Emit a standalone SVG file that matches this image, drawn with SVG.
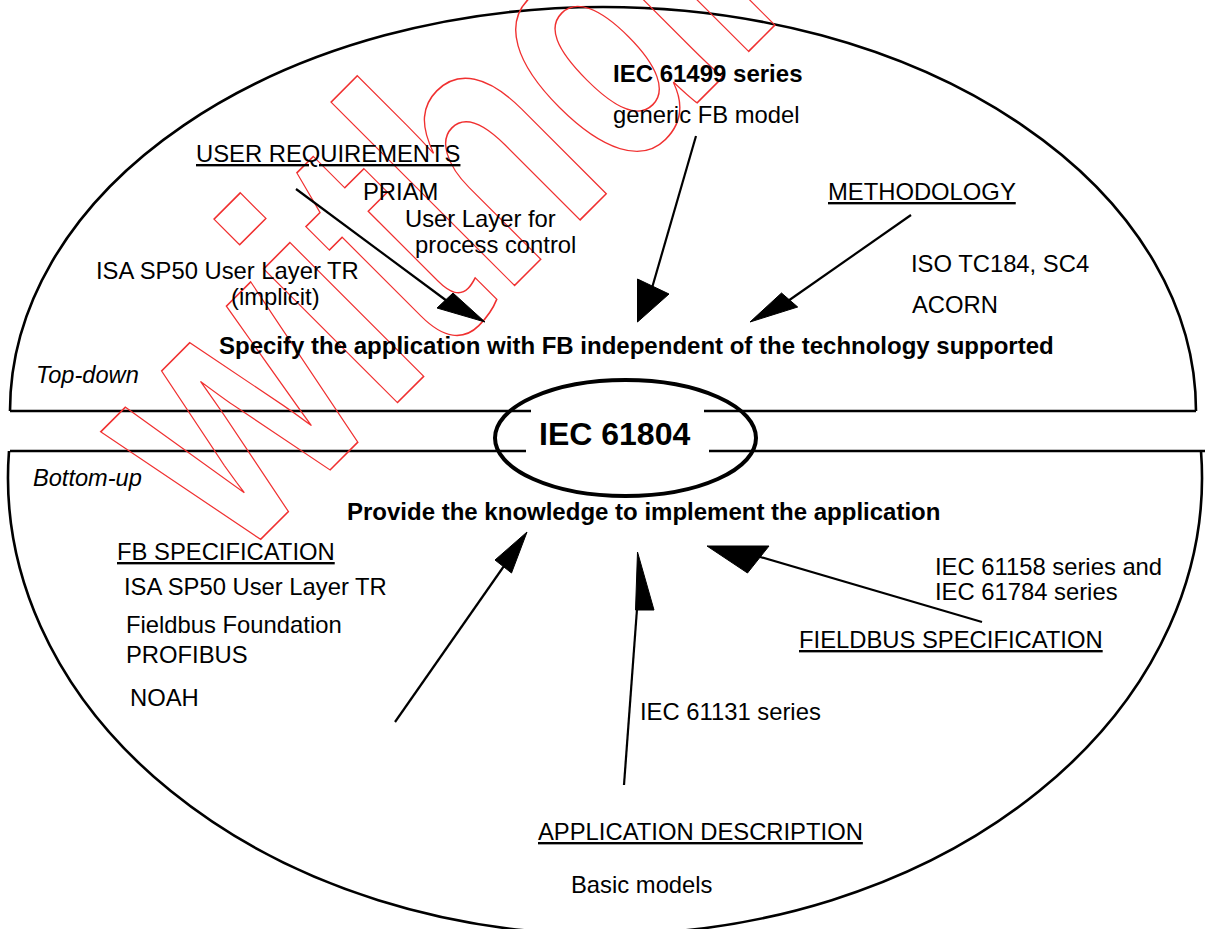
<svg xmlns="http://www.w3.org/2000/svg" width="1205" height="929" viewBox="0 0 1205 929">
<style>
text{font-family:"Liberation Sans",Arial,sans-serif;fill:#000}
.t{font-size:23.8px}
.b{font-size:24px;font-weight:bold}
.i{font-size:23.6px;font-style:italic}
.u{text-decoration:underline}
.shape{fill:none;stroke:#000;stroke-width:2.6}
.ln{stroke:#000;stroke-width:2.2;fill:none}
.head{fill:#000;stroke:#000;stroke-width:1}
.wm{font-family:"Liberation Sans",Arial,sans-serif;font-weight:bold;fill:none;stroke:#f03030;stroke-width:1.4}
</style>
<rect width="1205" height="929" fill="#fff"/>
<g id="frame">
<path class="shape" d="M10 411 A593 404 0 0 1 1196 411"/>
<path class="shape" d="M9 451 A597 457 0 1 0 1201 451"/>
<path class="shape" d="M10 411 H531 M704 411 H1196 M10 451 H526 M709 451 H1205"/>
</g>
<g id="watermark">
<text class="wm" x="0" y="0" font-size="358" vector-effect="non-scaling-stroke" transform="translate(235 565) rotate(-45) scale(0.757 1)">withdrawn</text>
</g>
<g id="core">
<ellipse cx="625.5" cy="438" rx="130.5" ry="58" fill="none" stroke="#000" stroke-width="4"/>
<text x="539" y="445" style="font-size:32px;font-weight:bold">IEC 61804</text>
</g>
<g id="top-down">
<text class="i" x="36" y="383">Top-down</text>
<text class="b" x="219" y="354">Specify the application with FB independent of the technology supported</text>
</g>
<g id="user-requirements">
<text class="t u" x="196" y="162">USER REQUIREMENTS</text>
<text class="t" x="363" y="200">PRIAM</text>
<text class="t" x="405" y="227">User Layer for</text>
<text class="t" x="415" y="253">process control</text>
<text class="t" x="96" y="279">ISA SP50 User Layer TR</text>
<text class="t" x="231" y="305">(implicit)</text>
</g>
<g id="iec61499">
<text class="b" x="613" y="82">IEC 61499 series</text>
<text class="t" x="613" y="123">generic FB model</text>
</g>
<g id="methodology">
<text class="t u" x="828" y="200">METHODOLOGY</text>
<text class="t" x="911" y="272">ISO TC184, SC4</text>
<text class="t" x="912" y="313">ACORN</text>
</g>
<g id="bottom-up">
<text class="i" x="33" y="486">Bottom-up</text>
<text class="b" x="347" y="520">Provide the knowledge to implement the application</text>
</g>
<g id="fb-specification">
<text class="t u" x="117" y="560">FB SPECIFICATION</text>
<text class="t" x="124" y="595">ISA SP50 User Layer TR</text>
<text class="t" x="126" y="633">Fieldbus Foundation</text>
<text class="t" x="126" y="663">PROFIBUS</text>
<text class="t" x="130" y="706">NOAH</text>
</g>
<g id="fieldbus-specification">
<text class="t" x="935" y="575">IEC 61158 series and</text>
<text class="t" x="935" y="600">IEC 61784 series</text>
<text class="t u" x="799" y="648">FIELDBUS SPECIFICATION</text>
</g>
<g id="application-description">
<text class="t" x="640" y="720">IEC 61131 series</text>
<text class="t u" x="538" y="840">APPLICATION DESCRIPTION</text>
<text class="t" x="571" y="893">Basic models</text>
</g>
<g id="connectors">
<line class="ln" x1="296" y1="189" x2="447" y2="301"/>
<polygon class="head" points="485,322 437,308 453,293"/>
<line class="ln" x1="696" y1="136" x2="652" y2="288"/>
<polygon class="head" points="637.5,322 637.5,279 669,294"/>
<line class="ln" x1="911" y1="215" x2="788" y2="301"/>
<polygon class="head" points="750,322 781.5,293 797.7,307"/>
<line class="ln" x1="395" y1="722" x2="504" y2="566"/>
<polygon class="head" points="527,532 495,560 511.5,573"/>
<line class="ln" x1="624" y1="785" x2="637" y2="609"/>
<polygon class="head" points="637.5,552 635.5,610 654,610"/>
<line class="ln" x1="982" y1="622" x2="757" y2="556"/>
<polygon class="head" points="707,546 769,546 747.5,573"/>
</g>
</svg>
